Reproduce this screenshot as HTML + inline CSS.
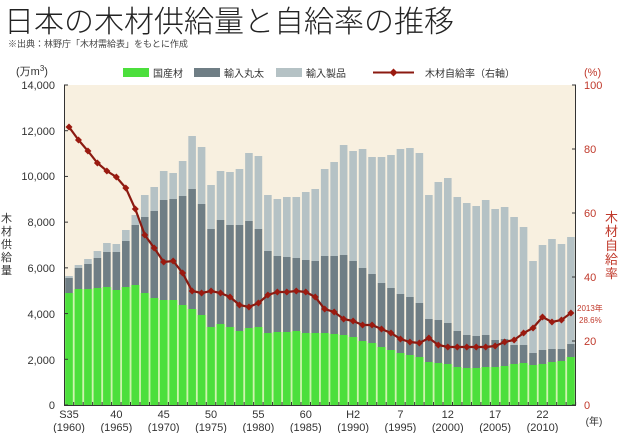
<!DOCTYPE html>
<html><head><meta charset="utf-8"><style>
body{margin:0;background:#fff;width:620px;height:433px;overflow:hidden;font-family:"Liberation Sans","Noto Sans CJK JP",sans-serif}
</style></head><body>
<svg id="s" width="620" height="433" xmlns="http://www.w3.org/2000/svg" font-family="Liberation Sans, Noto Sans CJK JP, sans-serif">
<text x="4" y="32" font-size="30" fill="#222" font-family="Noto Sans CJK JP, sans-serif" font-weight="300">日本の木材供給量と自給率の推移</text>
<text x="8" y="47" font-size="9" fill="#444">※出典：林野庁「木材需給表」をもとに作成</text>
<rect x="64" y="85" width="512" height="320" fill="#f8f0e0"/>
<g id="bars"></g>
<polyline id="line" fill="none" stroke="#8b1a10" stroke-width="2.2"/>
<g id="marks" fill="#9b1a10"></g>
<line x1="64.5" y1="85" x2="64.5" y2="405" stroke="#333" stroke-width="1"/>
<line x1="575.5" y1="85" x2="575.5" y2="405" stroke="#333" stroke-width="1"/>
<line x1="64" y1="405.5" x2="576" y2="405.5" stroke="#333" stroke-width="1"/>
<g id="ticks" stroke="#333" stroke-width="1"></g>
<g font-size="11" fill="#333" text-anchor="end">
<text x="55" y="89">14,000</text><text x="55" y="135">12,000</text><text x="55" y="180">10,000</text><text x="55" y="226">8,000</text><text x="55" y="272">6,000</text><text x="55" y="318">4,000</text><text x="55" y="364">2,000</text><text x="55" y="409">0</text>
</g>
<g font-size="11" fill="#c0392b">
<text x="584" y="89">100</text><text x="584" y="153">80</text><text x="584" y="217">60</text><text x="584" y="281">40</text><text x="584" y="345">20</text><text x="584" y="409">0</text>
<text x="584" y="76">(%)</text>
<text x="577" y="311" font-size="8">2013年</text><text x="579" y="323" font-size="8">28.6%</text>
</g>
<text x="16" y="75" font-size="11" fill="#333">(万m<tspan font-size="8" dy="-4">3</tspan><tspan dy="4">)</tspan></text>
<g font-size="11" fill="#333" font-family="Noto Sans CJK JP, sans-serif">
<text x="1" y="222">木</text><text x="1" y="235">材</text><text x="1" y="248">供</text><text x="1" y="261">給</text><text x="1" y="274">量</text>
</g>
<g font-size="13" fill="#c0392b" font-family="Noto Sans CJK JP, sans-serif">
<text x="605" y="222">木</text><text x="605" y="236">材</text><text x="605" y="250">自</text><text x="605" y="264">給</text><text x="605" y="278">率</text>
</g>
<rect x="123" y="68" width="26" height="9" fill="#4cdf3c"/><text x="153" y="77" font-size="10" fill="#333">国産材</text>
<rect x="194" y="68" width="26" height="9" fill="#6f7e85"/><text x="224" y="77" font-size="10" fill="#333">輸入丸太</text>
<rect x="276" y="68" width="26" height="9" fill="#b5c2c5"/><text x="306" y="77" font-size="10" fill="#333">輸入製品</text>
<line x1="373" y1="72.5" x2="414" y2="72.5" stroke="#8b1a10" stroke-width="2"/><path d="M393.5 68.5 L397.5 72.5 L393.5 76.5 L389.5 72.5Z" fill="#9b1a10"/>
<text x="425" y="77" font-size="10" fill="#333">木材自給率（右軸）</text>
<g id="xl" font-size="11" fill="#333" text-anchor="middle"></g>
<text x="594" y="425" font-size="10" fill="#333" text-anchor="middle">(年)</text>
</svg>
<script>
var T=[276,265,259,251,243,244,230,215,195,187,171,173,161,136,147,185,171,172,169,153,156,195,199,197,197,192,189,169,162,145,151,149,157,157,155,149,148,153,195,182,178,197,203,206,200,209,207,217,227,261,245,239,244,237];
var L=[278,268,264,258,252,252,241,225,217,211,200,199,196,189,204,229,220,225,225,221,229,251,256,257,258,260,261,256,256,255,261,268,274,283,288,294,297,303,319,320,323,331,335,336,335,340,339,345,345,353,350,349,349,344];
var G=[293,289,289,288,287,290,287,285,293,298,300,300,305,309,315,327,324,327,331,328,327,333,332,332,331,333,333,333,334,335,337,341,343,347,350,353,355,357,362,363,364,367,368,368,367,367,366,364,363,365,364,362,361,357];
var R=[127,140,151,163,171,177,188,209,235,248,262,261,273,291,293,291,293,297,305,307,303,295,292,292,291,292,297,309,312,319,321,325,325,329,333,339,342,343,338,345,347,347,347,347,347,346,342,340,333,328,317,322,320,313];
var ns="http://www.w3.org/2000/svg",b=document.getElementById('bars'),m=document.getElementById('marks'),tk=document.getElementById('ticks'),xl=document.getElementById('xl');
function el(p,t,a){var e=document.createElementNS(ns,t);for(var k in a)e.setAttribute(k,a[k]);p.appendChild(e);return e;}
var pts=[];
for(var i=0;i<54;i++){var cx=69+i*9.47,x=cx-3.8,w=7.6;
el(b,'rect',{x:cx-4.7,y:G[i],width:9.4,height:405-G[i],fill:'#c8f4a8'});
el(b,'rect',{x:x,y:T[i],width:w,height:L[i]-T[i],fill:'#b5c2c5'});
el(b,'rect',{x:x,y:L[i],width:w,height:G[i]-L[i],fill:'#6f7e85'});
el(b,'rect',{x:x,y:G[i],width:w,height:405-G[i],fill:'#4cdf3c'});
pts.push(cx.toFixed(1)+','+R[i]);
el(m,'path',{d:'M'+cx+' '+(R[i]-3.5)+'L'+(cx+3.5)+' '+R[i]+'L'+cx+' '+(R[i]+3.5)+'L'+(cx-3.5)+' '+R[i]+'Z'});
el(tk,'line',{x1:cx+4.7,y1:405,x2:cx+4.7,y2:402});}
document.getElementById('line').setAttribute('points',pts.join(' '));
for(var j=0;j<8;j++){var y=85+j*320/7;el(tk,'line',{x1:64,y1:y,x2:68,y2:y});}
for(var j=0;j<6;j++){var y=85+j*64;el(tk,'line',{x1:572,y1:y,x2:576,y2:y});}
var a=['S35','40','45','50','55','60','H2','7','12','17','22'];
for(var k=0;k<11;k++){var cx=69+k*5*9.47;var t=el(xl,'text',{x:cx,y:418});t.textContent=a[k];var t2=el(xl,'text',{x:cx,y:431});t2.textContent='('+(1960+5*k)+')';}
</script>
</body></html>
